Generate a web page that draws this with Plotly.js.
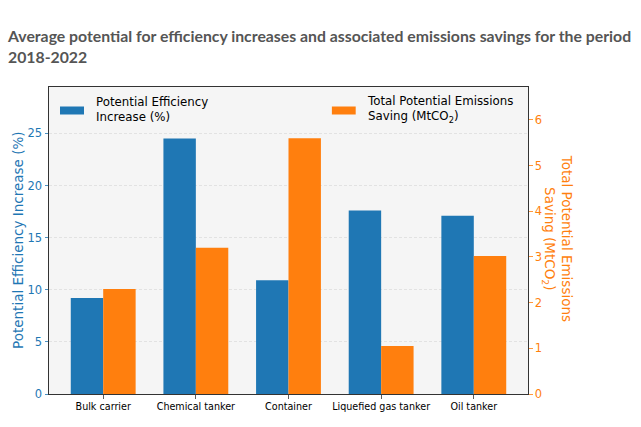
<!DOCTYPE html>
<html>
<head>
<meta charset="utf-8">
<script src="https://cdn.plot.ly/plotly-3.0.1.min.js"></script>
<style>html,body{margin:0;padding:0;background:#fff;}#chart{width:641px;height:427px;}</style>
</head>
<body>
<div id="chart"></div>
<script>
const categories = ["Bulk carrier", "Chemical tanker", "Container", "Liquefied gas tanker", "Oil tanker"];
const efficiencyIncrease = [9.2, 24.5, 10.9, 17.6, 17.1];
const emissionsSaving = [2.3, 3.2, 5.6, 1.05, 3.02];
const leftTicks = [0, 5, 10, 15, 20, 25];
const rightTicks = [0, 1, 2, 3, 4, 5, 6];
const seriesNames = ["Potential Efficiency<br>Increase (%)", "Total Potential Emissions<br>Saving (MtCO₂)"];

const blue = "#1f77b4", orange = "#ff7f0e";
const L = 49, R = 527.7, T = 87, B = 394;
const W = R - L, H = B - T;
const px = x => (x - L) / W;
const py = y => (B - y) / H;
const font = "DejaVu Sans, sans-serif";

const traces = [
  {type: "bar", x: categories, y: efficiencyIncrease, name: seriesNames[0], marker: {color: blue}, width: 0.35, offset: -0.35, yaxis: "y", showlegend: false, hoverinfo: "x+y"},
  {type: "bar", x: categories, y: emissionsSaving, name: seriesNames[1], marker: {color: orange}, width: 0.35, offset: 0, yaxis: "y2", showlegend: false, hoverinfo: "x+y"}
];

const layout = {
  width: 641, height: 427,
  margin: {l: L, r: 641 - R, t: T, b: 427 - B, pad: 0},
  paper_bgcolor: "#ffffff",
  plot_bgcolor: "#f5f5f5",
  font: {family: font, size: 11, color: "#000"},
  title: {
    text: "Average potential for efficiency increases and associated emissions savings for the period<br>2018-2022",
    x: 8 / 641, xanchor: "left", xref: "container",
    yref: "container", y: 1 - 42 / 427, yanchor: "middle",
    font: {family: "Lato, sans-serif", size: 15.8, color: "#555555", weight: 700}
  },
  barmode: "overlay",
  xaxis: {
    type: "category", range: [-0.585, 4.585],
    showline: true, linecolor: "#333", linewidth: 1, mirror: true,
    ticks: "outside", ticklen: 3.5, tickcolor: "#333", tickwidth: 0.8,
    tickfont: {family: font, size: 9.6, color: "#000"},
    showgrid: false, zeroline: false, fixedrange: true
  },
  yaxis: {
    range: [0, 29.45], tickvals: leftTicks, ticktext: leftTicks.map(String),
    ticks: "outside", ticklen: 3.5, tickcolor: blue, tickwidth: 0.8,
    tickfont: {family: font, size: 11.5, color: blue},
    showline: true, linecolor: "#333", linewidth: 1,
    showgrid: true, gridcolor: "#d6d6d6", gridwidth: 0.6, griddash: "3px,2px",
    zeroline: false, fixedrange: true
  },
  yaxis2: {
    overlaying: "y", side: "right", range: [0, 6.72],
    tickvals: rightTicks, ticktext: rightTicks.map(String),
    ticks: "outside", ticklen: 3.5, tickcolor: orange, tickwidth: 0.8,
    tickfont: {family: font, size: 11.5, color: orange},
    showline: true, linecolor: "#333", linewidth: 1,
    showgrid: false, zeroline: false, fixedrange: true
  },
  shapes: [
    {type: "rect", xref: "paper", yref: "paper", x0: px(60), x1: px(84), y0: py(114.5), y1: py(106.5), fillcolor: blue, line: {width: 0}},
    {type: "rect", xref: "paper", yref: "paper", x0: px(331.7), x1: px(355.5), y0: py(114.5), y1: py(106.5), fillcolor: orange, line: {width: 0}}
  ],
  annotations: [
    {xref: "paper", yref: "paper", x: px(93.5), y: py(109.5), xanchor: "left", yanchor: "middle", align: "left", showarrow: false,
     text: seriesNames[0], font: {family: font, size: 11.8, color: "#000"}},
    {xref: "paper", yref: "paper", x: px(364.5), y: py(109.5), xanchor: "left", yanchor: "middle", align: "left", showarrow: false,
     text: "Total Potential Emissions<br>Saving (MtCO<sub>2</sub>)", font: {family: font, size: 11.8, color: "#000"}},
    {xref: "paper", yref: "paper", x: px(18), y: py(240), xanchor: "center", yanchor: "middle", textangle: -90, showarrow: false,
     text: "Potential Efficiency Increase (%)", font: {family: font, size: 13.5, color: blue}},
    {xref: "paper", yref: "paper", x: px(558), y: py(238), xanchor: "center", yanchor: "middle", textangle: 90, showarrow: false,
     text: "Total Potential Emissions<br>Saving (MtCO<sub>2</sub>)", font: {family: font, size: 13.5, color: orange}}
  ]
};

Plotly.newPlot("chart", traces, layout, {displayModeBar: false, staticPlot: true});
</script>
</body>
</html>
